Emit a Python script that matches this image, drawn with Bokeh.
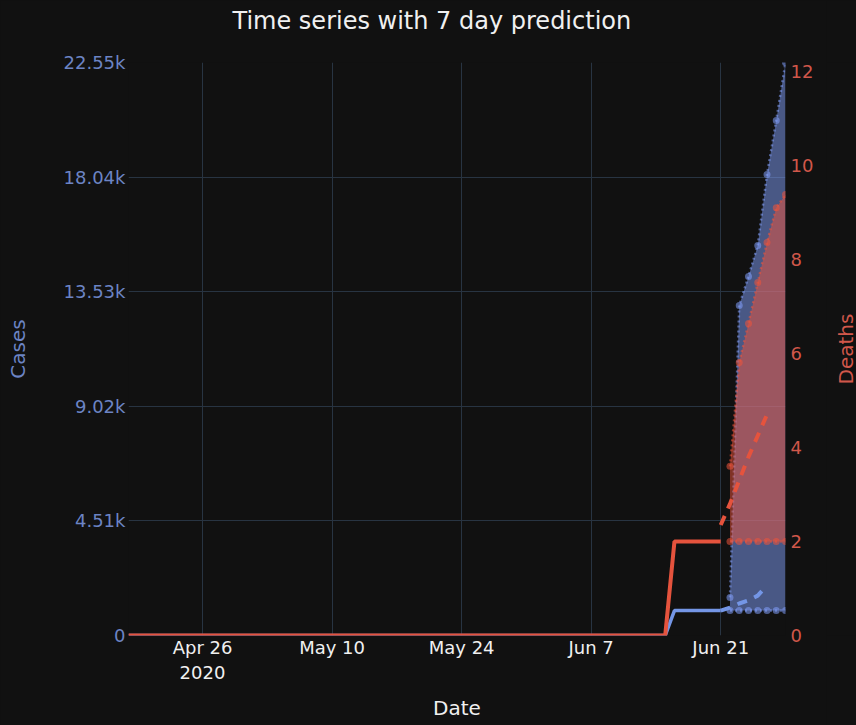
import math
import pandas as pd
from bokeh.plotting import figure
from bokeh.layouts import row
from bokeh.models import (ColumnDataSource, Range1d, LinearAxis, FixedTicker,
                          CustomJSTickFormatter, Title)
from bokeh.core.properties import value
from bokeh.embed import file_html
from bokeh.resources import INLINE

# Observed cumulative counts, one value per day from obs_start
obs_start = "2020-04-18"
cases_obs = [0] * 59 + [980] * 6
deaths_obs = [0] * 59 + [2] * 6

# Fitted trend, starting on the last observed day
trend_start = "2020-06-21"
cases_trend = [980, 1100, 1260, 1380, 1570, 1970]
deaths_trend = [2.35, 2.8, 3.3, 3.8, 4.25, 4.7]

# 7 day prediction band
band_start = "2020-06-22"
cases_low = [980] * 7
cases_high = [1500, 12990, 14130, 15350, 18140, 20270, 22550]
deaths_low = [2] * 7
deaths_high = [3.6, 5.81, 6.64, 7.51, 8.36, 9.1, 9.38]

# Axis ticks
date_ticks = ["2020-04-26", "2020-05-10", "2020-05-24", "2020-06-07", "2020-06-21"]
cases_ticks = [0, 4510, 9020, 13530, 18040, 22550]
cases_tick_labels = ["0", "4.51k", "9.02k", "13.53k", "18.04k", "22.55k"]
deaths_ticks = [0, 2, 4, 6, 8, 10, 12]
deaths_max = 12.19

BG = "#111111"
GRID = "#283442"
BLUE = "#7496E6"
BLUE_TXT = "#6C84C4"
BLUE_FILL = "#819FF9"
RED = "#E5533D"
RED_TXT = "#D0574A"
RED_FILL = "#EF543B"
FONT = "DejaVu Sans"

W, H = 856, 725
TOP, BOTTOM = 62, 90
SIDE_W = 30          # strip on the right that carries the "Deaths" title

obs_dates = pd.date_range(obs_start, periods=len(cases_obs), freq="D")
trend_dates = pd.date_range(trend_start, periods=len(cases_trend), freq="D")
band_dates = pd.date_range(band_start, periods=len(cases_high), freq="D")

obs = ColumnDataSource(dict(x=obs_dates, cases=cases_obs, deaths=deaths_obs))
trend = ColumnDataSource(dict(x=trend_dates, cases=cases_trend, deaths=deaths_trend))
band = ColumnDataSource(dict(x=band_dates, c_lo=cases_low, c_hi=cases_high,
                             d_lo=deaths_low, d_hi=deaths_high))

p = figure(width=W - SIDE_W, height=H, x_axis_type="datetime",
           title="Time series with 7 day prediction",
           x_range=Range1d(obs_dates[0], band_dates[-1]),
           y_range=Range1d(0, cases_ticks[-1]),
           output_backend="svg", toolbar_location=None,
           min_border_left=128, min_border_right=71 - SIDE_W,
           min_border_top=TOP, min_border_bottom=BOTTOM,
           styles={"background-color": BG})
p.extra_y_ranges = {"deaths": Range1d(0, deaths_max)}

p.background_fill_color = BG
p.border_fill_color = BG
p.outline_line_color = None

# empty spacer between the frame and the title, so the title sits near the top edge
p.add_layout(Title(text=" ", text_font_size="1px", standoff=18), "above")
p.title.text_color = "#F0F0F0"
p.title.text_font = FONT
p.title.text_font_size = "24px"
p.title.text_font_style = "normal"
p.title.align = "left"
p.title.offset = 104
p.title.vertical_align = "top"
p.title.standoff = 10

# x axis
xa = p.xaxis[0]
xa.ticker = FixedTicker(ticks=[pd.Timestamp(d).value / 1e6 for d in date_ticks])
xa.formatter = CustomJSTickFormatter(code="""
const months = ["Jan","Feb","Mar","Apr","May","Jun","Jul","Aug","Sep","Oct","Nov","Dec"];
const d = new Date(tick);
const s = months[d.getUTCMonth()] + " " + d.getUTCDate();
return index == 0 ? s + "\\n" + d.getUTCFullYear() : s;
""")
xa.axis_label = "Date"
xa.axis_label_text_color = "#F0F0F0"
xa.major_label_text_color = "#F0F0F0"

# left axis: cases
ya = p.yaxis[0]
ya.ticker = FixedTicker(ticks=cases_ticks)
ya.major_label_overrides = dict(zip(cases_ticks, cases_tick_labels))
ya.axis_label = "Cases"
ya.axis_label_text_color = BLUE_TXT
ya.major_label_text_color = BLUE_TXT

# right axis: deaths
ra = LinearAxis(y_range_name="deaths", ticker=FixedTicker(ticks=deaths_ticks))
ra.major_label_text_color = RED_TXT
p.add_layout(ra, "right")

for ax in (xa, ya, ra):
    ax.axis_line_color = None
    ax.major_tick_line_color = None
    ax.minor_tick_line_color = None
    ax.major_tick_out = 0
    ax.minor_tick_out = 0
    ax.major_tick_in = 0
    ax.minor_tick_in = 0
    ax.major_label_text_font = FONT
    ax.major_label_text_font_size = "18px"
    ax.axis_label_text_font = FONT
    ax.axis_label_text_font_size = "20px"
    ax.axis_label_text_font_style = "normal"

xa.major_label_standoff = 1
xa.axis_label_standoff = 10
ya.major_label_standoff = 3
ya.axis_label_standoff = 31
ra.major_label_standoff = 5

p.xgrid.grid_line_color = GRID
p.ygrid.grid_line_color = GRID
p.xgrid.grid_line_width = 1
p.ygrid.grid_line_width = 1

# cases (left axis)
p.varea(x="x", y1="c_lo", y2="c_hi", source=band, fill_color=BLUE_FILL, fill_alpha=0.5)
for col in ("c_lo", "c_hi"):
    p.line(x="x", y=col, source=band, line_color=BLUE_FILL, line_alpha=0.55,
           line_width=2.5, line_dash="2 3")
    p.scatter(x="x", y=col, source=band, marker="circle", size=7,
              fill_color=BLUE_FILL, fill_alpha=0.55, line_color=None)
p.line(x="x", y="cases", source=obs, line_color=BLUE, line_width=3.5)
p.line(x="x", y="cases", source=trend, line_color=BLUE, line_width=4,
       line_dash="10 8")

# deaths (right axis)
p.varea(x="x", y1="d_lo", y2="d_hi", source=band, fill_color=RED_FILL, fill_alpha=0.5,
        y_range_name="deaths")
for col in ("d_lo", "d_hi"):
    p.line(x="x", y=col, source=band, line_color=RED_FILL, line_alpha=0.55,
           line_width=2.5, line_dash="2 3", y_range_name="deaths")
    p.scatter(x="x", y=col, source=band, marker="circle", size=7,
              fill_color=RED_FILL, fill_alpha=0.55, line_color=None,
              y_range_name="deaths")
p.line(x="x", y="deaths", source=obs, line_color=RED, line_width=4,
       y_range_name="deaths")
p.line(x="x", y="deaths", source=trend, line_color=RED, line_width=4,
       line_dash="10 8", y_range_name="deaths")

# side strip holding the right-axis title, reading bottom to top
frame_h = H - TOP - BOTTOM
side = figure(width=SIDE_W, height=H, output_backend="svg", toolbar_location=None,
              x_range=Range1d(0, SIDE_W), y_range=Range1d(0, frame_h),
              x_axis_location=None, y_axis_location=None,
              min_border_left=0, min_border_right=0,
              min_border_top=TOP, min_border_bottom=BOTTOM,
              styles={"background-color": BG})
side.outline_line_color = None
side.background_fill_color = BG
side.border_fill_color = BG
side.grid.visible = False
side.text(x=[19], y=[frame_h / 2], text=["Deaths"], angle=math.pi / 2,
          text_color=RED_TXT, text_font=value(FONT), text_font_size="20px",
          text_align="center", text_baseline="middle")

layout = row(p, side, spacing=0, styles={"background-color": BG})
open("out.html", "w").write(file_html(layout, INLINE))
